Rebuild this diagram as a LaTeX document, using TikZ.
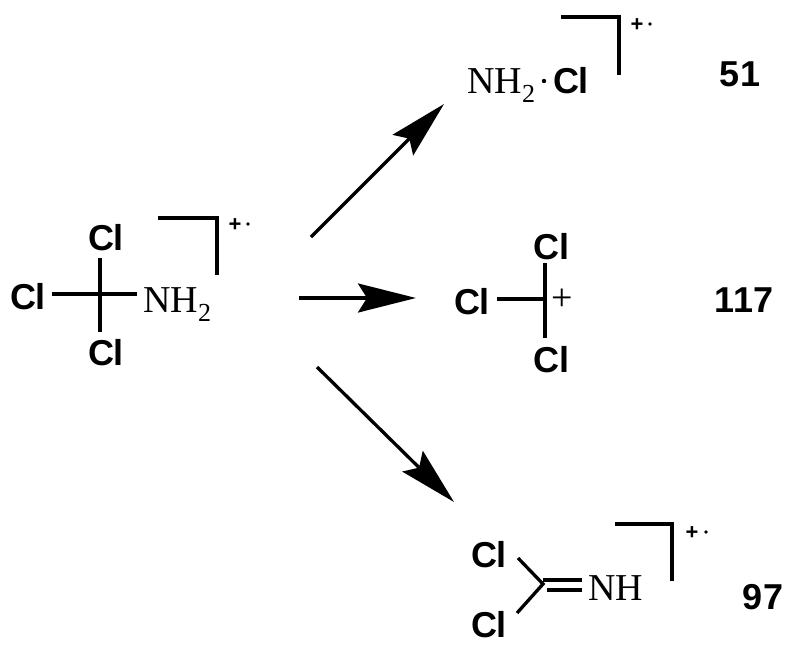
\documentclass[tikz,border=0pt]{standalone}
\usepackage{fontspec}
\setmainfont{Liberation Serif}
\setsansfont{Liberation Sans}
\usetikzlibrary{arrows.meta}
\newcommand\mysubtwo{\raisebox{-9pt}{\fontsize{26}{26}\selectfont 2}}
\tikzset{
  cl/.style={font=\sffamily\bfseries\fontsize{36}{36}\selectfont, inner sep=0pt},
  num/.style={font=\sffamily\bfseries\fontsize{36}{36}\selectfont, inner sep=0pt},
  ser/.style={font=\fontsize{38}{38}\selectfont, inner sep=0pt, anchor=base west},
  radplus/.style={font=\sffamily\bfseries\fontsize{22}{22}\selectfont, inner sep=0pt},
  bond/.style={line width=3.3pt},
  brk/.style={line width=3.3pt},
  rxn/.style={line width=3.3pt, -{Stealth[length=58pt, width=29pt, inset=9pt]}}
}
\begin{document}
\begin{tikzpicture}[x=1pt, y=-1pt]
\useasboundingbox[fill=white] (0,0) rectangle (800,651);

% ---- starting molecule: CCl3NH2 radical cation
\node[cl] (a1) at (106,238) {Cl};
\node[cl] (a2) at (28,297) {Cl};
\node[cl] (a3) at (106,353) {Cl};
\node[ser] (aN) at (143,312) {NH\mysubtwo};
\coordinate (aCt) at (100,258);
\coordinate (aCb) at (100,332);
\coordinate (aCl) at (52,294);
\coordinate (aCr) at (137,294);
\draw[bond] (aCt) -- (aCb);
\draw[bond] (aCl) -- (aCr);
\coordinate (aB1) at (158,218);
\coordinate (aB2) at (217,218);
\coordinate (aB3) at (217,275);
\draw[brk] (aB1) -- (aB2) -- (aB3);
\node[radplus] (aP) at (235,225) {+};
\fill (248,224) circle[radius=1.9pt];

% ---- product 51
\node[ser] (bN) at (467,93) {NH\mysubtwo};
\fill (544,81) circle[radius=2.2pt];
\node[cl] (bCl) at (571,81) {Cl};
\coordinate (bB1) at (561,17);
\coordinate (bB2) at (619,17);
\coordinate (bB3) at (619,75);
\draw[brk] (bB1) -- (bB2) -- (bB3);
\node[radplus] (bP) at (637,25) {+};
\fill (650,24) circle[radius=1.9pt];
\node[num] (n51) at (740,74) {51};

% ---- product 117
\node[cl] (c1) at (551,247) {Cl};
\node[cl] (c2) at (472,302) {Cl};
\node[cl] (c3) at (551,360) {Cl};
\coordinate (cCt) at (545,263);
\coordinate (cCb) at (545,338);
\coordinate (cCl) at (497,299);
\coordinate (cC) at (545,299);
\draw[bond] (cCt) -- (cCb);
\draw[bond] (cCl) -- (cC);
\node[ser, anchor=center] (cP) at (562,300) {+};
\node[num] (n117) at (744,300) {117};

% ---- product 97
\node[cl] (d1) at (489,555) {Cl};
\node[cl] (d2) at (489,625) {Cl};
\node[ser] (dN) at (588,600) {NH};
\coordinate (dC) at (543,584);
\coordinate (dT) at (518,558);
\coordinate (dB) at (517,613);
\draw[bond, line join=miter] (dT) -- (dC) -- (dB);
\coordinate (dD1a) at (543,580);
\coordinate (dD1b) at (582,580);
\coordinate (dD2a) at (547,590);
\coordinate (dD2b) at (582,590);
\draw[bond] (dD1a) -- (dD1b);
\draw[bond] (dD2a) -- (dD2b);
\coordinate (dB1) at (615,524);
\coordinate (dB2) at (672,524);
\coordinate (dB3) at (672,581);
\draw[brk] (dB1) -- (dB2) -- (dB3);
\node[radplus] (dP) at (692,533) {+};
\fill (706,532) circle[radius=1.9pt];
\node[num] (n97) at (763,597) {97};

% ---- reaction arrows
\coordinate (r1s) at (311,237);
\coordinate (r1e) at (444,104);
\coordinate (r2s) at (299,298);
\coordinate (r2e) at (416,298);
\coordinate (r3s) at (317,367);
\coordinate (r3e) at (454,502);
\draw[rxn] (r1s) -- (r1e);
\draw[rxn] (r2s) -- (r2e);
\draw[rxn] (r3s) -- (r3e);
\end{tikzpicture}
\end{document}
